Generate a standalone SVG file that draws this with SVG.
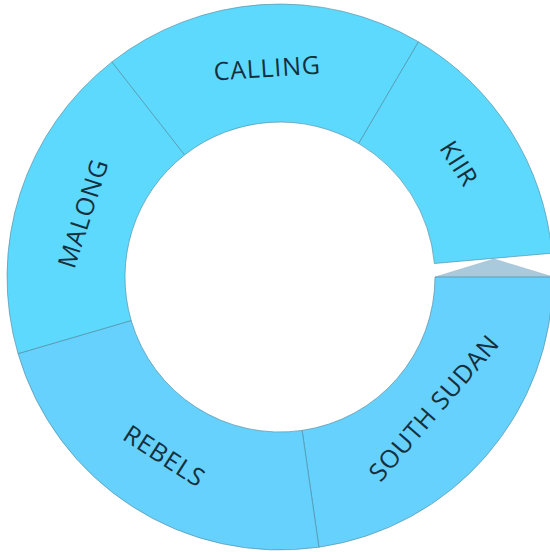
<svg xmlns="http://www.w3.org/2000/svg" width="550" height="552" viewBox="0 0 550 552">
<style>
.seg{stroke:#4f8aa0;stroke-width:0.8;stroke-opacity:0.8}
.top{fill:#5ed9fe}
.bot{fill:#67d1fd}
.lbl{font-family:"Open Sans","DejaVu Sans",sans-serif;font-size:25px;fill:#15303d;text-anchor:middle;dominant-baseline:central;letter-spacing:0.8px}
</style>
<rect width="550" height="552" fill="#ffffff"/>
<g id="connectors">
<polygon points="435,277 494,259 553,277" fill="#a9c9dc" stroke="#9dbcd0" stroke-width="0.6"/>
</g>
<g id="node-south-sudan">
<path class="seg bot" d="M553,277 A273,273 0 0 1 318.9,547.2 L302.1,430.4 A155,155 0 0 0 435,277 Z"/>
<text class="lbl" transform="translate(433,407) rotate(-49.1)">SOUTH SUDAN</text>
</g>
<g id="node-rebels">
<path class="seg bot" d="M318.9,547.2 A273,273 0 0 1 18,353.6 L131.2,320.5 A155,155 0 0 0 302.1,430.4 Z"/>
<text class="lbl" transform="translate(165,455) rotate(32.75)">REBELS</text>
</g>
<g id="node-malong">
<path class="seg top" d="M18,353.6 A273,273 0 0 1 111.9,61.9 L184.6,154.9 A155,155 0 0 0 131.2,320.5 Z"/>
<text class="lbl" transform="translate(82,213) rotate(-72.15)">MALONG</text>
</g>
<g id="node-calling">
<path class="seg top" d="M111.9,61.9 A273,273 0 0 1 418.5,41.8 L358.7,143.5 A155,155 0 0 0 184.6,154.9 Z"/>
<text class="lbl" transform="translate(267,67) rotate(-3.75)">CALLING</text>
</g>
<g id="node-kiir">
<path class="seg top" d="M418.5,41.8 A273,273 0 0 1 552,253.2 L434.4,263.5 A155,155 0 0 0 358.7,143.5 Z"/>
<text class="lbl" transform="translate(460,163) rotate(57.75)">KIIR</text>
</g>
</svg>
